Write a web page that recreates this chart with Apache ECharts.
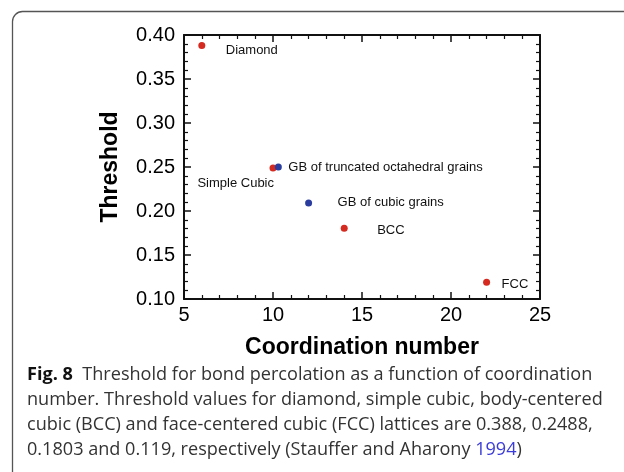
<!DOCTYPE html>
<html>
<head>
<meta charset="utf-8">
<script src="https://cdn.jsdelivr.net/npm/echarts@6/dist/echarts.min.js"></script>
<style>
  html, body { margin: 0; padding: 0; background: #fff; }
  #chart { width: 624px; height: 472px; }
</style>
</head>
<body>
<div id="chart"></div>
<script>
// lattice points (red) and grain boundary points (blue)
const latticeNames = ['Diamond', 'Simple Cubic', 'BCC', 'FCC'];
const latticeZ = [6, 10, 14, 22];
const latticeP = [0.388, 0.2488, 0.1803, 0.119];

const gbNames = ['GB of truncated octahedral grains', 'GB of cubic grains'];
const gbZ = [10.3, 12];
const gbP = [0.250, 0.209];

const xTicks = [5, 10, 15, 20, 25];
const yTicks = [0.10, 0.15, 0.20, 0.25, 0.30, 0.35, 0.40];

// label placement relative to the dot (pixels)
const labelOffsets = {
  'Diamond': [24, 5, 'left'],
  'Simple Cubic': [1, 15, 'right'],
  'BCC': [33, 2, 'left'],
  'FCC': [15, 2, 'left'],
  'GB of truncated octahedral grains': [10, 0, 'left'],
  'GB of cubic grains': [29, -1, 'left']
};

const toPoints = (names, xs, ys) => names.map((n, i) => {
  const o = labelOffsets[n];
  return {
    name: n,
    value: [xs[i], ys[i]],
    label: { offset: [o[0], o[1]], align: o[2] }
  };
});

const axisCommon = {
  axisLine: { show: true, onZero: false, lineStyle: { color: '#111', width: 2 } },
  axisTick: { show: true, inside: true, length: 7, lineStyle: { color: '#111', width: 1.5 } },
  minorTick: { show: true, splitNumber: 5, length: 4, lineStyle: { color: '#111', width: 1.2 } },
  splitLine: { show: false },
  minorSplitLine: { show: false }
};

const xBase = { type: 'value', min: xTicks[0], max: xTicks[xTicks.length - 1], interval: 5 };
const yBase = { type: 'value', min: yTicks[0], max: yTicks[yTicks.length - 1], interval: 0.05 };

const labelStyle = {
  show: true,
  position: 'inside',
  formatter: p => p.name,
  color: '#111',
  fontFamily: 'Liberation Sans, Arial',
  fontSize: 13,
  verticalAlign: 'middle'
};

const captionFont = 'Open Sans';
const captionSize = 18.1;

let myChart = echarts.init(document.getElementById('chart'), null, { renderer: 'canvas' });
myChart.setOption({
  animation: false,
  backgroundColor: '#fff',
  grid: { left: 184, right: 84, top: 35, bottom: 173 },
  xAxis: [
    Object.assign({}, xBase, axisCommon, {
      position: 'bottom',
      name: 'Coordination number',
      nameLocation: 'middle',
      nameGap: 37,
      nameTextStyle: { fontFamily: 'Liberation Sans, Arial', fontWeight: 'bold', fontSize: 23, color: '#000' },
      axisLabel: { color: '#000', fontFamily: 'Liberation Sans, Arial', fontSize: 20, margin: 6 }
    }),
    Object.assign({}, xBase, axisCommon, { position: 'top', axisLabel: { show: false } })
  ],
  yAxis: [
    Object.assign({}, yBase, axisCommon, {
      position: 'left',
      name: 'Threshold',
      nameLocation: 'middle',
      nameGap: 62,
      nameTextStyle: { fontFamily: 'Liberation Sans, Arial', fontWeight: 'bold', fontSize: 23, color: '#000' },
      axisLabel: { color: '#000', fontFamily: 'Liberation Sans, Arial', fontSize: 20, margin: 9,
        formatter: v => v.toFixed(2) }
    }),
    Object.assign({}, yBase, axisCommon, { position: 'right', axisLabel: { show: false } })
  ],
  series: [
    {
      type: 'scatter',
      symbolSize: 7,
      itemStyle: { color: '#d42a1f', opacity: 1 },
      label: labelStyle,
      data: toPoints(latticeNames, latticeZ, latticeP)
    },
    {
      type: 'scatter',
      symbolSize: 7,
      itemStyle: { color: '#2a3c9e', opacity: 1 },
      label: labelStyle,
      data: toPoints(gbNames, gbZ, gbP)
    }
  ],
  graphic: [
    // card frame with rounded corner (right and bottom edges run off the page)
    {
      type: 'rect',
      shape: { x: 12.5, y: 11.5, width: 700, height: 600, r: [10, 0, 0, 0] },
      style: { fill: null, stroke: '#555', lineWidth: 1.3 },
      silent: true
    },
    {
      type: 'text', left: 27, top: 366,
      style: {
        text: '{b|Fig. 8}  Threshold for bond percolation as a function of coordination',
        font: captionSize + 'px ' + captionFont, fill: '#333',
        rich: { b: { fontWeight: 'bold', fontSize: captionSize, fontFamily: captionFont, fill: '#111' } }
      }
    },
    {
      type: 'text', left: 27, top: 391,
      style: { text: 'number. Threshold values for diamond, simple cubic, body-centered', font: captionSize + 'px ' + captionFont, fill: '#333' }
    },
    {
      type: 'text', left: 27, top: 416,
      style: { text: 'cubic (BCC) and face-centered cubic (FCC) lattices are 0.388, 0.2488,', font: captionSize + 'px ' + captionFont, fill: '#333' }
    },
    {
      type: 'text', left: 27, top: 441,
      style: {
        text: '0.1803 and 0.119, respectively (Stauffer and Aharony {y|1994})',
        font: captionSize + 'px ' + captionFont, fill: '#333',
        rich: { y: { fill: '#3b3bd9', fontSize: captionSize, fontFamily: captionFont } }
      }
    }
  ]
});
window.addEventListener('resize', () => {
  myChart.resize();
});
</script>
</body>
</html>
